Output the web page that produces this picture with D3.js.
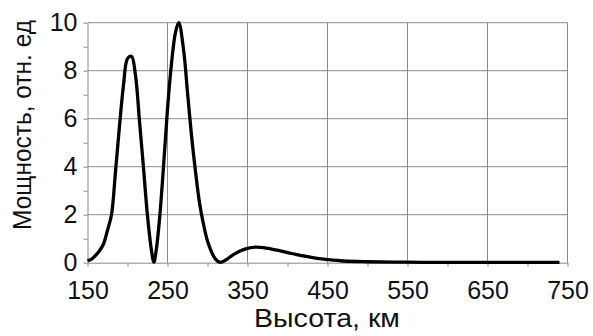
<!DOCTYPE html>
<html>
<head>
<meta charset="utf-8">
<script src="https://cdn.jsdelivr.net/npm/d3@7"></script>
<style>
  html, body { margin: 0; padding: 0; background: #fff; }
  svg { display: block; font-family: "Liberation Sans", Arial, sans-serif; }
</style>
</head>
<body>
<svg id="chart" width="593" height="336"></svg>
<script>
// heights (km) and relative power
const heights = [150, 155, 160, 165, 170, 175, 180, 185, 190, 195, 200, 205, 210, 215, 220, 225, 230, 233,
  236, 240, 245, 250, 255, 260, 264, 270, 275, 280, 285, 290, 295, 300, 305, 310, 315, 320, 325, 330,
  340, 350, 360, 370, 380, 390, 400, 410, 420, 430, 440, 450, 470, 500, 550, 600, 650, 700, 740];
const power = [0.08, 0.15, 0.3, 0.5, 0.78, 1.35, 2.0, 3.8, 5.7, 7.4, 8.5, 8.6, 7.8, 5.9, 3.95, 1.95, 0.5, 0.02,
  0.55, 1.8, 4.0, 6.4, 8.3, 9.6, 10.0, 8.9, 7.1, 5.3, 3.8, 2.5, 1.6, 0.9, 0.45, 0.15, 0.02, 0.06, 0.16, 0.28,
  0.48, 0.6, 0.65, 0.63, 0.57, 0.5, 0.42, 0.35, 0.28, 0.22, 0.17, 0.13, 0.07, 0.04, 0.02, 0.01, 0.01, 0.01, 0.01];

const xTicks = [150, 250, 350, 450, 550, 650, 750];
const xMinor = [200, 300, 400, 500, 600, 700];
const yTicks = [0, 2, 4, 6, 8, 10];
const yMinor = [1, 3, 5, 7, 9];

const xTitle = 'Высота, км';
const yTitle = 'Мощность, отн. ед';

const svg = d3.select('#chart');

const x = d3.scaleLinear().domain([150, 750]).range([87.5, 567.5]);
const y = d3.scaleLinear().domain([0, 10]).range([262.7, 22.7]);

const gridColor = '#8c8c8c';

// grid lines
svg.append('g')
  .selectAll('line')
  .data(xTicks.slice(1))
  .enter().append('line')
  .attr('x1', d => x(d)).attr('x2', d => x(d))
  .attr('y1', y(0)).attr('y2', y(10))
  .attr('stroke', gridColor).attr('stroke-width', 1);

svg.append('g')
  .selectAll('line')
  .data(yTicks.slice(1))
  .enter().append('line')
  .attr('x1', x(150)).attr('x2', x(750))
  .attr('y1', d => y(d)).attr('y2', d => y(d))
  .attr('stroke', gridColor).attr('stroke-width', 1);

// x axis
const xAxis = svg.append('g')
  .attr('transform', `translate(0,${y(0)})`)
  .call(d3.axisBottom(x).tickValues(xTicks.concat(xMinor)).tickSize(4).tickSizeOuter(0)
    .tickFormat(d => xTicks.includes(d) ? d : ''));

xAxis.select('.domain').attr('stroke', gridColor);
xAxis.selectAll('.tick line').attr('stroke', gridColor);
xAxis.selectAll('.tick text')
  .attr('fill', '#111')
  .style('font-size', '25px')
  .attr('y', 36.3)
  .attr('dy', 0);

// y axis
const yAxis = svg.append('g')
  .attr('transform', `translate(${x(150)},0)`)
  .call(d3.axisLeft(y).tickValues(yTicks.concat(yMinor)).tickSize(4).tickSizeOuter(0)
    .tickFormat(d => yTicks.includes(d) ? d : ''));

yAxis.select('.domain').attr('stroke', gridColor);
yAxis.selectAll('.tick line').attr('stroke', gridColor);
yAxis.selectAll('.tick text')
  .attr('fill', '#111')
  .style('font-size', '25px')
  .attr('x', -10)
  .attr('dy', '0.33em');

// curve
const pts = heights.map((h, i) => [h, power[i]]);
svg.append('path')
  .datum(pts)
  .attr('fill', 'none')
  .attr('stroke', '#000')
  .attr('stroke-width', 3.3)
  .attr('stroke-linejoin', 'round')
  .attr('d', d3.line()
    .x(d => x(d[0]))
    .y(d => y(d[1]))
    .curve(d3.curveCatmullRom.alpha(0.5)));

// axis titles
svg.append('text')
  .attr('x', 327)
  .attr('y', 327)
  .attr('text-anchor', 'middle')
  .attr('fill', '#111')
  .attr('textLength', 146)
  .attr('lengthAdjust', 'spacingAndGlyphs')
  .style('font-size', '25px')
  .text(xTitle);

svg.append('text')
  .attr('transform', 'translate(31,125) rotate(-90)')
  .attr('text-anchor', 'middle')
  .attr('fill', '#111')
  .attr('textLength', 210)
  .attr('lengthAdjust', 'spacingAndGlyphs')
  .style('font-size', '25px')
  .text(yTitle);
</script>
</body>
</html>
